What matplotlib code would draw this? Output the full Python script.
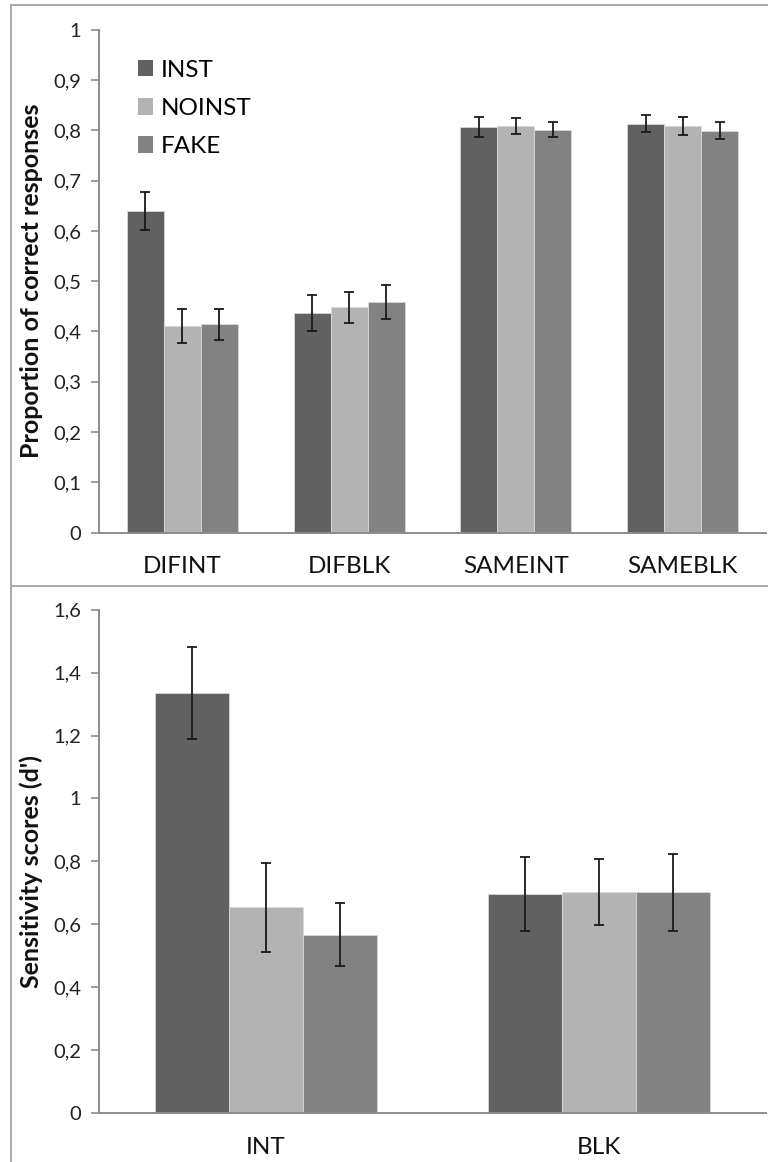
import numpy as np
import matplotlib
matplotlib.use('Agg')
import matplotlib.pyplot as plt
from matplotlib.lines import Line2D
from matplotlib.patches import Patch

plt.rcParams['font.family'] = ['Lato', 'DejaVu Sans']

# correct-response proportions per condition
conditions = ['DIFINT', 'DIFBLK', 'SAMEINT', 'SAMEBLK']
prop_inst = [0.640, 0.436, 0.807, 0.813]
prop_noinst = [0.411, 0.448, 0.809, 0.809]
prop_fake = [0.414, 0.459, 0.801, 0.799]
prop_inst_err = [0.038, 0.036, 0.020, 0.017]
prop_noinst_err = [0.033, 0.031, 0.016, 0.018]
prop_fake_err = [0.030, 0.034, 0.015, 0.017]

# d' sensitivity per block type
blocks = ['INT', 'BLK']
dprime_inst = [1.335, 0.696]
dprime_noinst = [0.654, 0.702]
dprime_fake = [0.567, 0.702]
dprime_inst_err = [0.145, 0.119]
dprime_noinst_err = [0.142, 0.105]
dprime_fake_err = [0.100, 0.122]

groups = ['INST', 'NOINST', 'FAKE']
colors = ['#616161', '#b3b3b3', '#828282']
axis_gray = '#8c8c8c'
frame_gray = '#a8a8a8'


def comma_fmt(v):
    return f"{v:g}".replace('.', ',')


def draw_bars(ax, labels, series, errors, yticks, ylabel, label_y):
    x = np.arange(len(labels))
    w = 1 / 4.5
    for i, (vals, errs) in enumerate(zip(series, errors)):
        pos = x + (i - 1) * w
        ax.bar(pos, vals, width=w, color=colors[i],
               edgecolor='#d8d8d8', linewidth=0.6, label=groups[i])
        ax.errorbar(pos, vals, yerr=errs, fmt='none', ecolor='#1a1a1a',
                    elinewidth=1.3, capsize=3.6, capthick=1.3)
    ax.set_xlim(-0.5, len(labels) - 0.5)
    ax.set_ylim(yticks[0], yticks[-1])
    ax.set_yticks(yticks)
    ax.set_yticklabels([comma_fmt(round(t, 1)) for t in yticks])
    ax.set_xticks(x)
    ax.set_xticklabels(labels, fontsize=17.5, color='#111111')
    ax.tick_params(axis='x', length=0, pad=17)
    ax.tick_params(axis='y', direction='out', length=5.8, width=1.2,
                   color=axis_gray, pad=7, labelsize=14.5, labelcolor='#222222')
    for s in ['top', 'right']:
        ax.spines[s].set_visible(False)
    for s in ['left', 'bottom']:
        ax.spines[s].set_color(axis_gray)
        ax.spines[s].set_linewidth(1.4)
    ax.set_ylabel(ylabel, fontsize=18, fontweight='bold', color='#111111')
    ax.yaxis.set_label_coords(-0.084, label_y)


fig = plt.figure(figsize=(7.68, 11.62), dpi=100)

ax1 = fig.add_axes([0.1289, 0.5416, 0.8685, 0.4328])
draw_bars(ax1, conditions, [prop_inst, prop_noinst, prop_fake],
          [prop_inst_err, prop_noinst_err, prop_fake_err],
          np.arange(0, 1.01, 0.1), 'Proportion of correct responses', 0.50)

handles = [Patch(facecolor=c, edgecolor='none') for c in colors]
ax1.legend(handles, groups, loc='upper left', bbox_to_anchor=(0.058, 0.94),
           frameon=False, fontsize=17.5, borderpad=0, borderaxespad=0,
           handlelength=0.65, handleheight=0.65, handletextpad=0.3,
           labelspacing=0.7)

ax2 = fig.add_axes([0.1289, 0.0422, 0.8685, 0.4331])
draw_bars(ax2, blocks, [dprime_inst, dprime_noinst, dprime_fake],
          [dprime_inst_err, dprime_noinst_err, dprime_fake_err],
          np.arange(0, 1.61, 0.2), "Sensitivity scores (d')", 0.48)

# chart area borders
H = 1162.0
left = 11 / 768
fig.add_artist(Line2D([left, left], [0, 1 - 5 / H], color=frame_gray, lw=1.4))
fig.add_artist(Line2D([left, 1], [1 - 5 / H, 1 - 5 / H], color=frame_gray, lw=1.4))
fig.add_artist(Line2D([left, 1], [1 - 586 / H, 1 - 586 / H], color=frame_gray, lw=1.4))

fig.savefig('out.png', dpi=100)
plt.close(fig)
